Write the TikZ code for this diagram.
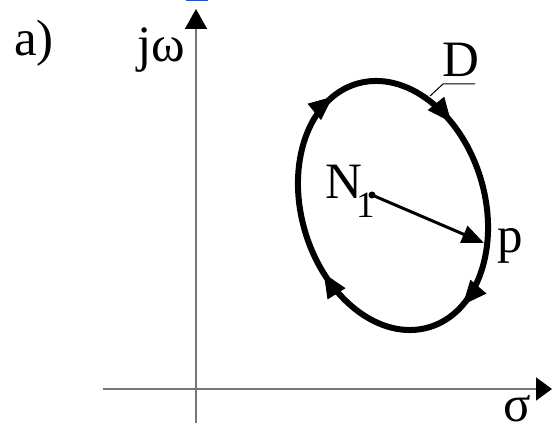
\documentclass[tikz,border=0pt]{standalone}
\usepackage{fontspec}
\setmainfont{Liberation Serif}
\usetikzlibrary{arrows.meta}
\definecolor{axisgray}{RGB}{118,118,118}
\definecolor{topblue}{RGB}{40,80,200}
\newcommand\mytipD[1]{\draw[cwtip] ({91.7*cos(#1)-18.3*sin(#1)},{127*sin(#1)+25.4*cos(#1)}) -- ({91.7*cos(#1)},{127*sin(#1)});}
\begin{document}
\begin{tikzpicture}[x=1pt,y=1pt,
  axis/.style={draw=axisgray, line width=1.8pt},
  curve/.style={line width=6pt},
  lbl/.style={inner sep=0pt, anchor=base west, font=\fontsize{51}{60}\selectfont},
  cwtip/.style={line width=1pt, -{Triangle[length=24pt,width=21pt]}},
]
\useasboundingbox (0,0) rectangle (552,427);
\fill[topblue] (186,425.5) rectangle (208,427);
% axes
\coordinate (yb) at (196,4);
\coordinate (yt) at (196,418);
\coordinate (xl) at (103,38);
\coordinate (xr) at (552,38);
\draw[axis, -{Triangle[length=20pt,width=22pt,color=black,fill=black]}] (yb) -- (yt);
\draw[axis, -{Triangle[length=16pt,width=23pt,color=black,fill=black]}] (xl) -- (xr);
% labels
\node[lbl] (a) at (14,371) {a)};
\node[lbl] (jw) at (137,365) {jω};
\node[lbl] (sig) at (503,5) {σ};
\node[lbl] (D) at (442,350) {D};
\node[lbl] (N) at (325,228) {N\kern-6pt\raisebox{-19pt}{\fontsize{37}{37}\selectfont 1}};
\node[lbl] (p) at (497,174) {p};
% contour D
\begin{scope}[shift={(393,221.5)}, rotate=16.5]
  \draw[curve] (0,0) ellipse [x radius=91.7, y radius=127];
  \mytipD{107}
  \mytipD{30}
  \mytipD{-65}
  \mytipD{201}
\end{scope}
% leader of D
\coordinate (dl1) at (430,331);
\coordinate (dl2) at (443,343);
\coordinate (dl3) at (475,343);
\draw[line width=1pt] (dl1) -- (dl2) -- (dl3);
% N1 to p
\node[circle, fill, inner sep=0pt, minimum size=7pt] (n1) at (372,232) {};
\coordinate (pp) at (484,184);
\draw[line width=3pt, -{Triangle[length=22pt,width=18pt]}] (n1.center) -- (pp);
\end{tikzpicture}
\end{document}
